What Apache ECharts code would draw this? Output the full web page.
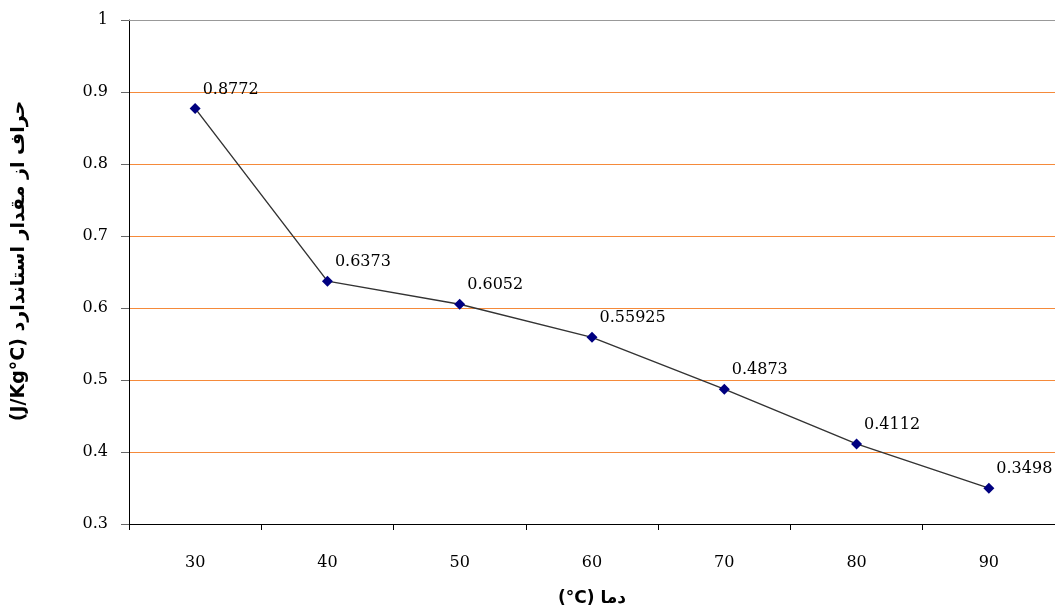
<!DOCTYPE html>
<html>
<head>
<meta charset="utf-8">
<script src="https://cdn.jsdelivr.net/npm/echarts@6/dist/echarts.min.js"></script>
<style>html,body{margin:0;padding:0;background:#fff}#c{width:1055px;height:614px}</style>
</head>
<body>
<div id="c"></div>
<script>
var categories = ['30', '40', '50', '60', '70', '80', '90'];
var values = [0.8772, 0.6373, 0.6052, 0.55925, 0.4873, 0.4112, 0.3498];
var labels = ['0.8772', '0.6373', '0.6052', '0.55925', '0.4873', '0.4112', '0.3498'];
var xTitle = '(°C) دما';
var yTitle = '(J/Kg°C) حراف از مقدار استاندارد';

var chart = echarts.init(document.getElementById('c'), null, {renderer: 'canvas'});
var orange = '#F58A3A';
chart.setOption({
  animation: false,
  grid: {left: 129, top: 20, width: 933, height: 504, containLabel: false},
  xAxis: {
    type: 'category',
    data: categories,
    boundaryGap: true,
    axisLine: {lineStyle: {color: '#000', width: 1}},
    axisTick: {show: true, length: 6, inside: false, lineStyle: {color: '#000'}},
    axisLabel: {margin: 31, fontFamily: 'DejaVu Serif', fontSize: 16, color: '#000'},
    splitLine: {show: false},
    name: xTitle,
    nameLocation: 'middle',
    nameGap: 66,
    nameTextStyle: {fontFamily: 'DejaVu Sans', fontWeight: 'bold', fontSize: 17, color: '#000'}
  },
  yAxis: {
    type: 'value',
    min: 0.3, max: 1, interval: 0.1,
    axisLine: {show: true, lineStyle: {color: '#000', width: 1}},
    axisTick: {show: true, length: 8, lineStyle: {color: '#666'}},
    axisLabel: {margin: 21, fontFamily: 'DejaVu Serif', fontSize: 16, color: '#000',
      formatter: function (v) { return String(Math.round(v * 10) / 10); }},
    splitLine: {show: true, lineStyle: {color: orange, width: 1}},
    name: yTitle,
    nameLocation: 'middle',
    nameRotate: 90,
    nameGap: 100,
    nameTextStyle: {fontFamily: 'DejaVu Sans', fontWeight: 'bold', fontSize: 19, color: '#000', padding: [0, 0, 0, 22]}
  },
  series: [{
    type: 'line',
    data: values,
    symbol: 'diamond',
    symbolSize: 11,
    lineStyle: {color: '#333', width: 1.4},
    itemStyle: {color: '#000080'},
    label: {
      show: true,
      position: 'right',
      distance: 1,
      offset: [1, -19],
      fontFamily: 'DejaVu Serif',
      fontSize: 16,
      color: '#000',
      formatter: function (p) { return labels[p.dataIndex]; }
    },
    markLine: {
      silent: true,
      symbol: 'none',
      label: {show: false},
      lineStyle: {color: '#999', type: 'solid', width: 1},
      data: [{yAxis: 1}]
    }
  }]
});
</script>
</body>
</html>
